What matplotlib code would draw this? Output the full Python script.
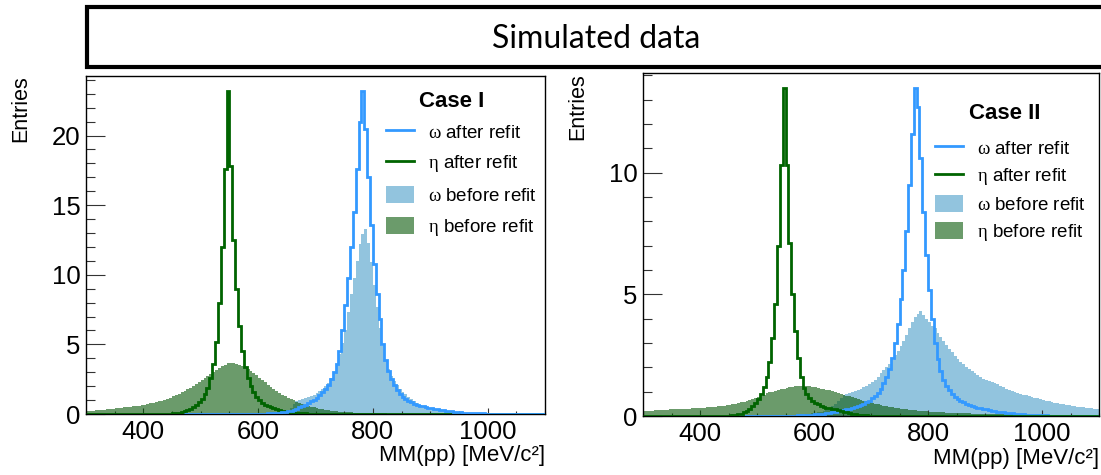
import numpy as np
import matplotlib
matplotlib.use('Agg')
import matplotlib.pyplot as plt
from matplotlib.lines import Line2D
from matplotlib.patches import Patch, Rectangle
from matplotlib.ticker import MultipleLocator

plt.rcParams['font.family'] = ['Liberation Sans', 'DejaVu Sans']
plt.rcParams['mathtext.fontset'] = 'custom'
plt.rcParams['mathtext.rm'] = 'Liberation Serif'

#
# histogram contents (entries per 5 MeV/c^2 bin), each list starts at *_start
#
bin_w = 5
x_lo, x_hi = 300, 1100

# Case I
c1_eta_before_start = 300
c1_eta_before = [
    0.20, 0.22, 0.24, 0.26, 0.28, 0.30, 0.32, 0.34, 0.36, 0.38,
    0.40, 0.43, 0.45, 0.47, 0.50, 0.52, 0.55, 0.58, 0.61, 0.64,
    0.67, 0.71, 0.76, 0.80, 0.85, 0.90, 0.96, 1.02, 1.08, 1.17,
    1.26, 1.35, 1.45, 1.56, 1.67, 1.78, 1.90, 2.03, 2.17, 2.31,
    2.45, 2.60, 2.75, 2.90, 3.05, 3.18, 3.31, 3.43, 3.55, 3.63,
    3.68, 3.66, 3.62, 3.55, 3.45, 3.35, 3.25, 3.10, 2.95, 2.78,
    2.62, 2.45, 2.28, 2.11, 1.95, 1.81, 1.67, 1.53, 1.40, 1.29,
    1.18, 1.08, 0.98, 0.89, 0.80, 0.72, 0.64, 0.58, 0.52, 0.47,
    0.42, 0.38, 0.34, 0.30, 0.27, 0.24, 0.21, 0.19, 0.17, 0.15,
    0.13, 0.12, 0.11, 0.10, 0.09, 0.08, 0.07, 0.065, 0.06, 0.055,
    0.05, 0.047, 0.044, 0.041, 0.038, 0.035, 0.032, 0.029, 0.026, 0.023,
    0.02, 0.019, 0.018, 0.017, 0.016, 0.015, 0.014, 0.013, 0.012, 0.011,
]
c1_omega_before_start = 650
c1_omega_before = [
    0.15, 0.40, 0.70, 0.90, 1.02, 1.10, 1.18, 1.25, 1.32, 1.40,
    1.50, 1.62, 1.78, 1.98, 2.25, 2.60, 3.05, 3.60, 4.30, 5.10,
    6.00, 7.30, 8.60, 9.80, 11.0, 12.2, 12.9, 13.3, 12.3, 10.9,
    9.30, 7.70, 6.20, 4.90, 3.90, 3.20, 2.70, 2.35, 2.05, 1.80,
    1.60, 1.42, 1.25, 1.08, 0.93, 0.80, 0.68, 0.58, 0.49, 0.42,
    0.36, 0.31, 0.26, 0.22, 0.19, 0.16, 0.13, 0.11, 0.09, 0.08,
    0.07, 0.06, 0.05, 0.04, 0.035, 0.03, 0.025, 0.02, 0.015, 0.01,
]
c1_eta_after_start = 440
c1_eta_after = [
    0.02, 0.03, 0.05, 0.07, 0.10, 0.14, 0.20, 0.28, 0.38, 0.50,
    0.65, 0.85, 1.10, 1.45, 1.90, 2.60, 3.60, 5.20, 8.00, 12.0,
    17.6, 23.2, 17.8, 12.5, 9.00, 6.30, 4.50, 3.40, 2.60, 2.00,
    1.55, 1.25, 1.00, 0.82, 0.68, 0.57, 0.48, 0.40, 0.33, 0.27,
    0.22, 0.18, 0.15, 0.12, 0.10, 0.08, 0.06, 0.05, 0.04, 0.03,
    0.02, 0.02,
]
c1_omega_after_start = 580
c1_omega_after = [
    0.01, 0.01, 0.01, 0.02, 0.02, 0.03, 0.03, 0.04, 0.05, 0.06,
    0.08, 0.10, 0.12, 0.15, 0.19, 0.24, 0.30, 0.38, 0.48, 0.58,
    0.68, 0.78, 0.90, 1.02, 1.18, 1.35, 1.55, 1.80, 2.10, 2.50,
    3.00, 3.60, 4.50, 6.00, 7.80, 9.80, 12.0, 14.5, 17.6, 21.0,
    23.2, 20.5, 17.0, 13.6, 10.8, 8.60, 6.80, 5.00, 3.90, 3.10,
    2.50, 2.05, 1.70, 1.45, 1.25, 1.08, 0.95, 0.84, 0.75, 0.67,
    0.60, 0.55, 0.50, 0.46, 0.42, 0.38, 0.34, 0.30, 0.27, 0.24,
    0.21, 0.18, 0.16, 0.14, 0.12, 0.10, 0.09, 0.08, 0.07, 0.06,
    0.05, 0.04, 0.04, 0.03, 0.03, 0.02, 0.02, 0.02, 0.01, 0.01,
]

# Case II
c2_eta_before_start = 300
c2_eta_before = [
    0.20, 0.21, 0.22, 0.22, 0.23, 0.24, 0.25, 0.25, 0.26, 0.27,
    0.27, 0.28, 0.28, 0.29, 0.29, 0.30, 0.30, 0.31, 0.31, 0.32,
    0.32, 0.33, 0.35, 0.36, 0.37, 0.39, 0.40, 0.42, 0.43, 0.45,
    0.47, 0.48, 0.50, 0.53, 0.56, 0.59, 0.62, 0.66, 0.71, 0.75,
    0.80, 0.84, 0.88, 0.93, 0.97, 1.00, 1.04, 1.07, 1.10, 1.13,
    1.15, 1.18, 1.20, 1.22, 1.23, 1.24, 1.24, 1.23, 1.22, 1.20,
    1.18, 1.15, 1.13, 1.10, 1.08, 1.05, 1.02, 0.98, 0.95, 0.91,
    0.88, 0.84, 0.81, 0.77, 0.74, 0.70, 0.67, 0.63, 0.60, 0.57,
    0.54, 0.51, 0.48, 0.45, 0.43, 0.40, 0.38, 0.36, 0.34, 0.32,
    0.30, 0.28, 0.27, 0.25, 0.24, 0.23, 0.22, 0.21, 0.20, 0.19,
    0.18, 0.175, 0.17, 0.16, 0.155, 0.15, 0.14, 0.135, 0.13, 0.125,
    0.12, 0.115, 0.11, 0.11, 0.105, 0.10, 0.095, 0.09, 0.09, 0.085,
    0.08, 0.078, 0.076, 0.074, 0.072, 0.07, 0.068, 0.066, 0.064, 0.062,
    0.06, 0.058, 0.056, 0.054, 0.052, 0.05, 0.048, 0.046, 0.044, 0.042,
    0.04, 0.038, 0.036, 0.035, 0.034, 0.033, 0.032, 0.031, 0.03, 0.03,
    0.03, 0.029, 0.028, 0.027, 0.026, 0.025, 0.024, 0.023, 0.022, 0.021,
]
c2_omega_before_start = 550
c2_omega_before = [
    0.01, 0.02, 0.02, 0.03, 0.04, 0.05, 0.06, 0.07, 0.09, 0.11,
    0.13, 0.15, 0.18, 0.22, 0.27, 0.33, 0.40, 0.50, 0.62, 0.75,
    0.85, 0.90, 0.95, 0.99, 1.03, 1.07, 1.12, 1.18, 1.25, 1.32,
    1.40, 1.50, 1.62, 1.75, 1.88, 2.01, 2.15, 2.32, 2.50, 2.68,
    2.88, 3.10, 3.35, 3.60, 3.85, 4.05, 4.20, 4.30, 4.15, 4.00,
    3.85, 3.72, 3.60, 3.42, 3.25, 3.07, 2.90, 2.76, 2.62, 2.48,
    2.35, 2.23, 2.12, 2.02, 1.92, 1.83, 1.75, 1.67, 1.60, 1.54,
    1.48, 1.43, 1.38, 1.34, 1.30, 1.24, 1.18, 1.13, 1.08, 1.04,
    1.00, 0.96, 0.92, 0.88, 0.85, 0.81, 0.78, 0.75, 0.72, 0.69,
    0.66, 0.63, 0.60, 0.58, 0.55, 0.53, 0.50, 0.48, 0.46, 0.44,
    0.42, 0.40, 0.38, 0.37, 0.35, 0.34, 0.32, 0.31, 0.29, 0.28,
]
c2_eta_after_start = 440
c2_eta_after = [
    0.01, 0.01, 0.02, 0.03, 0.05, 0.07, 0.10, 0.15, 0.22, 0.30,
    0.40, 0.52, 0.68, 0.90, 1.20, 1.60, 2.20, 3.20, 4.60, 7.00,
    10.3, 13.5, 10.3, 7.10, 5.00, 3.50, 2.40, 1.60, 1.15, 0.90,
    0.75, 0.63, 0.55, 0.48, 0.42, 0.38, 0.34, 0.31, 0.29, 0.27,
    0.24, 0.21, 0.18, 0.15, 0.12, 0.10, 0.08, 0.06, 0.05, 0.04,
    0.03, 0.02, 0.01,
]
c2_omega_after_start = 550
c2_omega_after = [
    0.01, 0.02, 0.02, 0.02, 0.03, 0.03, 0.04, 0.04, 0.05, 0.06,
    0.07, 0.08, 0.09, 0.10, 0.12, 0.14, 0.16, 0.18, 0.20, 0.23,
    0.26, 0.28, 0.30, 0.33, 0.36, 0.40, 0.44, 0.50, 0.56, 0.63,
    0.72, 0.82, 0.95, 1.12, 1.35, 1.60, 1.95, 2.40, 3.00, 3.80,
    4.80, 6.00, 7.60, 9.50, 11.6, 13.5, 12.7, 10.6, 8.40, 6.60,
    5.20, 4.00, 3.00, 2.35, 1.85, 1.50, 1.25, 1.05, 0.90, 0.80,
    0.70, 0.62, 0.56, 0.50, 0.45, 0.41, 0.37, 0.34, 0.31, 0.29,
    0.27, 0.24, 0.22, 0.20, 0.18, 0.16, 0.15, 0.13, 0.12, 0.11,
    0.10, 0.09, 0.08, 0.07, 0.06, 0.05, 0.05, 0.04, 0.04, 0.03,
    0.03, 0.03, 0.02, 0.02, 0.02, 0.02, 0.01, 0.01,
]

omega_line = '#3399ff'
eta_line = '#006400'
omega_fill = (0.29, 0.62, 0.79)
eta_fill = (0.03, 0.35, 0.03)
fill_alpha = 0.6

labels = [r'$\mathrm{\omega}$ after refit', r'$\mathrm{\eta}$ after refit',
          r'$\mathrm{\omega}$ before refit', r'$\mathrm{\eta}$ before refit']


def hist_on(vals, start, lo=x_lo, hi=x_hi):
    edges = np.arange(lo, hi + bin_w, bin_w)
    h = np.zeros(len(edges) - 1)
    i0 = (start - lo) // bin_w
    h[i0:i0 + len(vals)] = vals
    return h, edges


def draw_panel(ax, eta_b, omega_b, eta_a, omega_a, omega_lo, omega_top,
               ymax, case, title_xy, leg_xy, spacing):
    h, e = hist_on(*omega_b)
    ax.stairs(h, e, fill=True, color=omega_fill, alpha=fill_alpha, lw=0, zorder=1)
    h, e = hist_on(*eta_b)
    ax.stairs(h, e, fill=True, color=eta_fill, alpha=fill_alpha, lw=0, zorder=2)
    h, e = hist_on(*eta_a)
    ax.stairs(h, e, color=eta_line, lw=2.0, zorder=4 if not omega_top else 3)
    h, e = hist_on(*omega_a, lo=omega_lo)
    ax.stairs(h, e, color=omega_line, lw=2.0, zorder=4 if omega_top else 3)

    ax.set_xlim(x_lo, x_hi)
    ax.set_ylim(0, ymax)
    ax.xaxis.set_major_locator(MultipleLocator(200))
    ax.xaxis.set_minor_locator(MultipleLocator(50))
    ax.yaxis.set_major_locator(MultipleLocator(5))
    ax.yaxis.set_minor_locator(MultipleLocator(1))
    ax.tick_params(which='both', direction='in', top=False, right=False,
                   labelsize=18.5, color='#333333', width=0.8)
    ax.tick_params(axis='y', which='major', length=13.5, pad=4)
    ax.tick_params(axis='y', which='minor', length=6.5)
    ax.tick_params(axis='x', which='major', length=4.5, pad=4)
    ax.tick_params(axis='x', which='minor', length=2.5)
    for s in ax.spines.values():
        s.set_linewidth(1.0)

    ax.set_xlabel('MM(pp) [MeV/c²]', loc='right', fontsize=16)
    ax.xaxis.set_label_coords(1.0, -0.092)
    ax.xaxis.label.set_va('top')
    ax.set_ylabel('Entries', loc='top', fontsize=15.5)
    ax.yaxis.set_label_coords(-0.119, 1.0)

    ax.text(title_xy[0], title_xy[1], case, transform=ax.transAxes,
            ha='center', va='center', fontsize=16, fontweight='bold', zorder=6)
    handles = [Line2D([], [], color=omega_line, lw=2.0),
               Line2D([], [], color=eta_line, lw=2.0),
               Patch(facecolor=omega_fill, alpha=fill_alpha, lw=0),
               Patch(facecolor=eta_fill, alpha=fill_alpha, lw=0)]
    ax.legend(handles, labels, loc='upper left', bbox_to_anchor=leg_xy,
              frameon=False, fontsize=13.5, handlelength=1.5, handleheight=1.0,
              handletextpad=0.75, labelspacing=spacing, borderpad=0,
              borderaxespad=0)


fig = plt.figure(figsize=(11.01, 4.75), dpi=100)
ax1 = fig.add_axes([86 / 1101, 1 - 414 / 475, 459 / 1101, 338.3 / 475])
ax2 = fig.add_axes([643 / 1101, 1 - 416 / 475, 456 / 1101, 343 / 475])

draw_panel(ax1,
           (c1_eta_before, c1_eta_before_start),
           (c1_omega_before, c1_omega_before_start),
           (c1_eta_after, c1_eta_after_start),
           (c1_omega_after, c1_omega_after_start),
           omega_lo=470, omega_top=True, ymax=24.3, case='Case I',
           title_xy=(0.797, 0.923), leg_xy=(0.654, 0.860), spacing=0.62)
draw_panel(ax2,
           (c2_eta_before, c2_eta_before_start),
           (c2_omega_before, c2_omega_before_start),
           (c2_eta_after, c2_eta_after_start),
           (c2_omega_after, c2_omega_after_start),
           omega_lo=455, omega_top=False, ymax=14.1, case='Case II',
           title_xy=(0.793, 0.883), leg_xy=(0.640, 0.808), spacing=0.44)

# title banner on top
box = Rectangle((87 / 1101, 1 - 67 / 475), (1130 - 87) / 1101, 60 / 475,
                transform=fig.transFigure, facecolor='white', edgecolor='black',
                linewidth=3, zorder=10, clip_on=False)
fig.add_artist(box)
fig.text(596 / 1101, 1 - 39 / 475, 'Simulated data', ha='center', va='center',
         fontsize=23, family='Lato', color='black', zorder=11)

fig.savefig('out.png', dpi=100)
